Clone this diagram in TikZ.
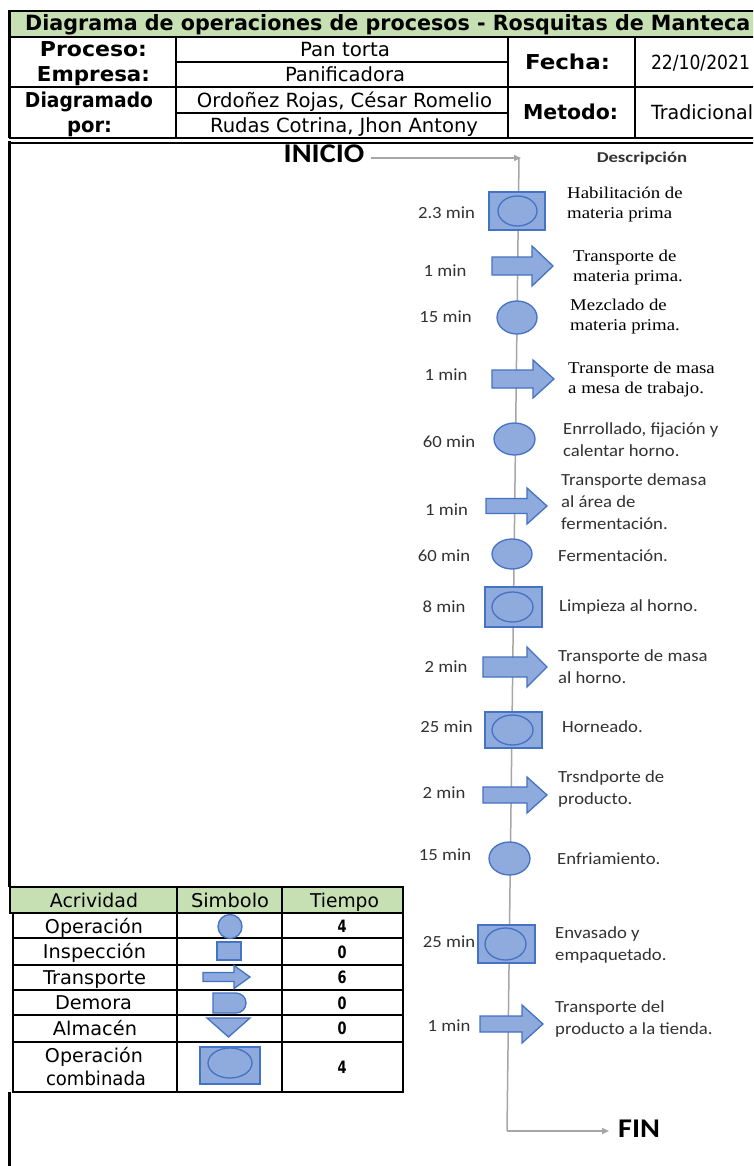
\documentclass[tikz,border=0pt]{standalone}
\usepackage{fontspec}
\usepackage{graphicx}
\usetikzlibrary{shapes.geometric,arrows.meta}
\setmainfont{Liberation Sans}
\newfontfamily\hdfont{DejaVu Sans}
\newfontfamily\calw[FakeStretch=1.1]{Carlito}
\newfontfamily\calI[FakeStretch=1.12]{Carlito}
\newfontfamily\calD[FakeStretch=1.25]{Carlito}
\newfontfamily\serw[FakeStretch=1.14]{Liberation Serif}
\newcommand{\fw}[2]{\resizebox{#1pt}{\height}{#2}}
\definecolor{symfill}{RGB}{143,170,220}
\definecolor{symedge}{RGB}{68,114,196}
\definecolor{hdgreen}{RGB}{198,224,180}
\definecolor{flowgray}{RGB}{166,166,166}
\definecolor{txtgray}{RGB}{50,50,50}
\newcommand{\transp}[7]{%
  \draw[sym] (#2,#5-#6) -- (#3,#5-#6) -- (#3,#5-#7) -- (#4,#5) -- (#3,#5+#7) -- (#3,#5+#6) -- (#2,#5+#6) -- cycle;
  \coordinate (#1) at ({(#2+#4)/2},#5);}
\begin{document}
\begin{tikzpicture}[x=1pt,y=-1pt,
  sym/.style={draw=symedge,fill=symfill,line width=1.3pt,line join=miter},
  opel/.style={ellipse,draw=symedge,fill=symfill,line width=1.3pt,inner sep=0pt,outer sep=0pt},
  cbox/.style={rectangle,draw=symedge,fill=symfill,line width=1.3pt,inner sep=0pt,outer sep=0pt},
  flowline/.style={draw=flowgray,line width=1.5pt},
  hdlab/.style={anchor=base,inner sep=0pt,font=\hdfont\bfseries\fontsize{20.5}{22}\selectfont},
  hdval/.style={anchor=base,inner sep=0pt,font=\hdfont\fontsize{19.5}{21}\selectfont},
  tbtxt/.style={anchor=base,inner sep=0pt,font=\hdfont\fontsize{19}{21}\selectfont},
  tnum/.style={anchor=base,inner sep=0pt,font=\hdfont\bfseries\fontsize{17}{19}\selectfont},
  tmin/.style={inner sep=0pt,text=txtgray,font=\calw\fontsize{17}{20}\selectfont},
  dser/.style={anchor=west,inner sep=0pt,align=left,text=black,font=\serw\fontsize{16.5}{20}\selectfont},
  dsan/.style={anchor=west,inner sep=0pt,align=left,text=txtgray,font=\calw\fontsize{17}{22}\selectfont}
]
\useasboundingbox (0,0) rectangle (753,1166);
\clip (0,0) rectangle (753,1166);
\fill[white] (0,0) rectangle (753,1166);

% ---------- header ----------
\fill[hdgreen] (9,11) rectangle (760,37);
\draw[line width=2.5] (9,11) -- (760,11);
\draw[line width=2] (9,37) -- (760,37);
\draw[line width=1.2] (176,62) -- (508,62);
\draw[line width=1.6] (9,87) -- (760,87);
\draw[line width=1.2] (176,113) -- (508,113);
\draw[line width=2] (9,138) -- (760,138);
\draw[line width=1.6] (176,37) -- (176,138);
\draw[line width=1.6] (508,37) -- (508,138);
\draw[line width=1.6] (635,37) -- (635,138);
\draw[line width=3] (9,10) -- (9,138);

\node[anchor=base west,inner sep=0pt,font=\hdfont\bfseries\fontsize{21}{23}\selectfont] (title) at (25,31)
  {\fw{725}{Diagrama de operaciones de procesos - Rosquitas de Manteca}};
\node[hdlab] (lproc) at (93.5,57) {\fw{107}{Proceso:}};
\node[hdlab] (lemp) at (93.5,82) {\fw{113}{Empresa:}};
\node[hdlab] (ldiag) at (89,107.5) {\fw{128}{Diagramado}};
\node[hdlab] (lpor) at (89.5,133) {\fw{45}{por:}};
\node[hdval] (vproc) at (345,56.5) {\fw{90}{Pan torta}};
\node[hdval] (vemp) at (345,82) {\fw{120}{Panificadora}};
\node[hdval] (vdiag1) at (344.5,107.5) {\fw{295}{Ordoñez Rojas, César Romelio}};
\node[hdval] (vdiag2) at (344,133) {\fw{268}{Rudas Cotrina, Jhon Antony}};
\node[hdlab] (lfecha) at (567.5,69.5) {\fw{85}{Fecha:}};
\node[hdval] (vfecha) at (700.5,69.5) {\fw{99}{22/10/2021}};
\node[hdlab] (lmet) at (570.5,120) {\fw{95}{Metodo:}};
\node[hdval] (vmet) at (702,120) {\fw{102}{Tradicional}};

% ---------- body frame ----------
\draw[line width=2.5] (9,143) -- (760,143);
\draw[line width=3] (9,141.5) -- (9,887);
\draw[line width=3] (9,1092) -- (9,1166);

% ---------- flow line ----------
\node[anchor=base,inner sep=0pt,font=\calI\bfseries\fontsize{27}{30}\selectfont] (inicio) at (324,163) {INICIO};
\node[anchor=base west,inner sep=0pt,font=\calI\bfseries\fontsize{27}{30}\selectfont] (fin) at (618,1137) {FIN};
\coordinate (iniA) at (371,158);
\coordinate (vtop) at (519,158);
\coordinate (vbot) at (507,1131);
\coordinate (finA) at (609,1131);
\draw[flowline,-{Triangle[width=6pt,length=7pt]}] (iniA) -- ([xshift=2pt]vtop);
\draw[flowline] (vtop) -- (vbot);
\draw[flowline,-{Triangle[width=6pt,length=7pt]}] (vbot) -- (finA);

\node[inner sep=0pt,text=txtgray,font=\calD\bfseries\fontsize{15}{17}\selectfont] (desc) at (642,158) {Descripción};

% ---------- symbols ----------
\node[cbox,minimum width=56pt,minimum height=38pt] (s1) at (517,211) {};
\node[opel,minimum width=39pt,minimum height=30pt] (s1e) at (517.5,211) {};
\transp{s2}{492}{532}{553}{266}{9}{20}
\node[opel,minimum width=40pt,minimum height=33pt] (s3) at (517,317.5) {};
\transp{s4}{492}{533}{554}{379}{9}{19}
\node[opel,minimum width=41pt,minimum height=32pt] (s5) at (514.5,439) {};
\transp{s6}{486}{527}{547}{506}{7.5}{18}
\node[opel,minimum width=40pt,minimum height=30pt] (s7) at (512,554) {};
\node[cbox,minimum width=57pt,minimum height=40pt] (s8) at (513.5,607) {};
\node[opel,minimum width=41pt,minimum height=30pt] (s8e) at (512.5,607) {};
\transp{s9}{483}{527}{547}{667}{10}{20}
\node[cbox,minimum width=57pt,minimum height=36pt] (s10) at (513.5,730) {};
\node[opel,minimum width=41pt,minimum height=30pt] (s10e) at (512.5,730) {};
\transp{s11}{483}{527}{547}{795}{8}{18}
\node[opel,minimum width=41pt,minimum height=33pt] (s12) at (509.5,858.5) {};
\node[cbox,minimum width=57pt,minimum height=38pt] (s13) at (506.5,944) {};
\node[opel,minimum width=41pt,minimum height=32pt] (s13e) at (505.5,944) {};
\transp{s14}{480}{522}{543}{1024}{8}{19}

% ---------- times ----------
\node[tmin] (t1) at (446.5,213) {2.3 min};
\node[tmin] (t2) at (445,271) {1 min};
\node[tmin] (t3) at (445.5,317) {15 min};
\node[tmin] (t4) at (446,375) {1 min};
\node[tmin] (t5) at (449,442) {60 min};
\node[tmin] (t6) at (446.5,510) {1 min};
\node[tmin] (t7) at (444,556) {60 min};
\node[tmin] (t8) at (444,607) {8 min};
\node[tmin] (t9) at (446,667) {2 min};
\node[tmin] (t10) at (446.5,727) {25 min};
\node[tmin] (t11) at (444,793) {2 min};
\node[tmin] (t12) at (445,855) {15 min};
\node[tmin] (t13) at (449,942) {25 min};
\node[tmin] (t14) at (449,1026) {1 min};

% ---------- descriptions ----------
\node[dser] (d1) at (567,205) {Habilitación de\\materia prima};
\node[dser] (d2) at (573,267.5) {Transporte de\\materia prima.};
\node[dser] (d3) at (570,317) {Mezclado de\\materia prima.};
\node[dser] (d4) at (568,380) {Transporte de masa\\a mesa de trabajo.};
\node[dsan] (d5) at (563,440) {Enrrollado, fijación y\\calentar horno.};
\node[dsan] (d6) at (561,502) {Transporte demasa\\al área de\\fermentación.};
\node[dsan] (d7) at (558,556) {Fermentación.};
\node[dsan] (d8) at (559,607) {Limpieza al horno.};
\node[dsan] (d9) at (558,667) {Transporte de masa\\al horno.};
\node[dsan] (d10) at (562,727) {Horneado.};
\node[dsan] (d11) at (558,789) {Trsndporte de\\producto.};
\node[dsan] (d12) at (557,859) {Enfriamiento.};
\node[dsan] (d13) at (555,945) {Envasado y\\empaquetado.};
\node[dsan] (d14) at (555,1019) {Transporte del\\producto a la tienda.};

% ---------- legend table ----------
\fill[hdgreen] (10,887) rectangle (403,913);
\draw[line width=1.2] (13,913) -- (13,1092) -- (403,1092) -- (403,913);
\foreach \yy in {938,965,990,1015,1042} {\draw[line width=1.2] (13,\yy) -- (403,\yy);}
\draw[line width=1.2] (177,887) -- (177,1092);
\draw[line width=1.2] (282,887) -- (282,1092);
\draw[line width=2.5] (10,887) rectangle (403,913);

\node[tbtxt] (hact) at (94,907.5) {\fw{88}{Acrividad}};
\node[tbtxt] (hsim) at (230,907.5) {\fw{78}{Simbolo}};
\node[tbtxt] (htie) at (344.5,907.5) {\fw{69}{Tiempo}};
\node[tbtxt] (aop) at (94,933) {\fw{98}{Operación}};
\node[tbtxt] (ains) at (94.5,958.5) {\fw{103}{Inspección}};
\node[tbtxt] (atra) at (94.5,984.5) {\fw{103}{Transporte}};
\node[tbtxt] (adem) at (93.5,1009.5) {\fw{77}{Demora}};
\node[tbtxt] (aalm) at (95,1035.5) {\fw{84}{Almacén}};
\node[tbtxt] (acom1) at (94,1062) {\fw{98}{Operación}};
\node[tbtxt] (acom2) at (96,1085.5) {\fw{100}{combinada}};
\node[tnum] (n1) at (342,932.5) {\fw{9}{4}};
\node[tnum] (n2) at (342,958) {\fw{9}{0}};
\node[tnum] (n3) at (342,983.5) {\fw{9}{6}};
\node[tnum] (n4) at (342,1009) {\fw{9}{0}};
\node[tnum] (n5) at (342,1034.5) {\fw{9}{0}};
\node[tnum] (n6) at (342,1073) {\fw{9}{4}};

% legend symbols
\node[opel,minimum width=24pt,minimum height=24pt] (lop) at (230,926.5) {};
\node[cbox,minimum width=24pt,minimum height=18pt] (lins) at (229,951) {};
\transp{ltra}{203}{234}{250}{977}{4.5}{11.5}
\draw[sym] (213,993) -- (236,993) arc[start angle=-90,end angle=90,x radius=10,y radius=10] -- (213,1013) -- cycle;
\coordinate (ldem) at (229,1003);
\draw[sym] (207,1018) -- (250,1018) -- (228.5,1037) -- cycle;
\coordinate (lalm) at (228.5,1024);
\node[cbox,minimum width=60pt,minimum height=37pt] (lcom) at (230,1065.5) {};
\node[opel,minimum width=44pt,minimum height=30pt] (lcome) at (230,1063) {};
\end{tikzpicture}
\end{document}
